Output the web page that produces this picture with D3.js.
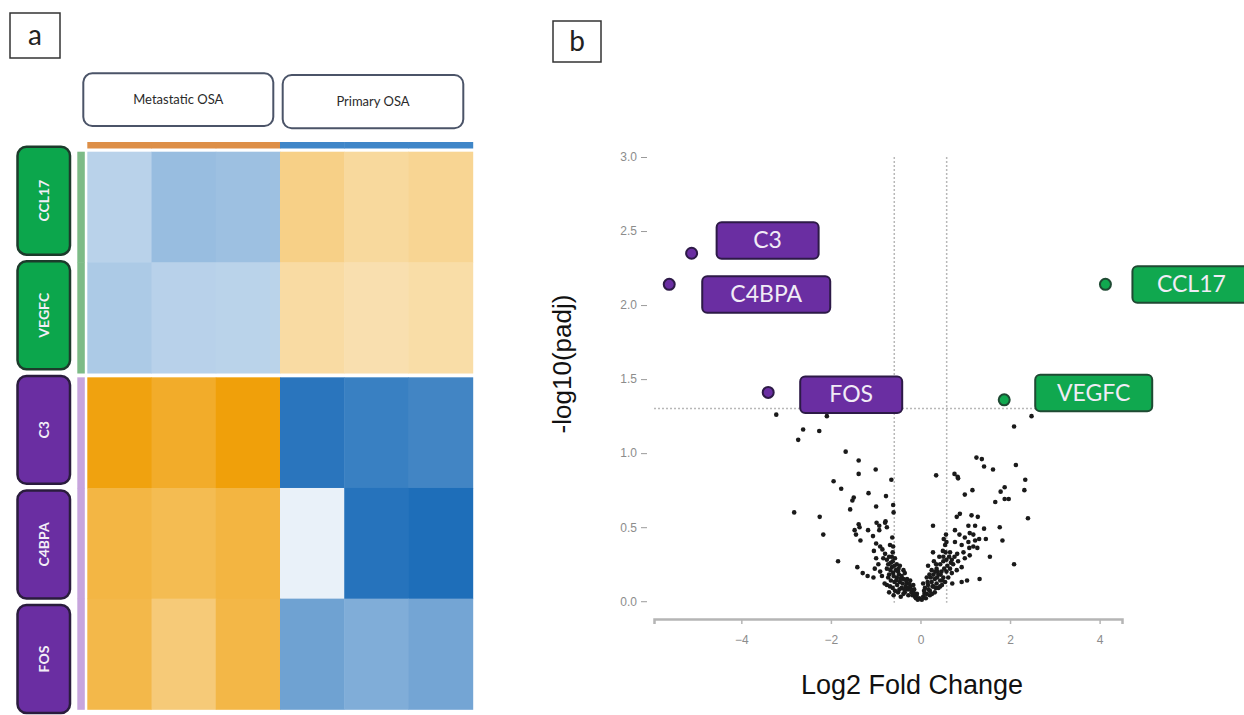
<!DOCTYPE html>
<html>
<head>
<meta charset="utf-8">
<script src="https://cdn.jsdelivr.net/npm/d3@7"></script>
<style>
body { margin: 0; background: #fff; }
svg { display: block; }
</style>
</head>
<body>
<svg id="fig" width="1244" height="715"></svg>
<script>
// ---- panel a data ----
let genes = ["CCL17", "VEGFC", "C3", "C4BPA", "FOS"];
let geneGroup = ["up", "up", "down", "down", "down"];
let samples = ["M1", "M2", "M3", "P1", "P2", "P3"];
let sampleGroup = ["Metastatic OSA", "Metastatic OSA", "Metastatic OSA", "Primary OSA", "Primary OSA", "Primary OSA"];
let groupNames = ["Metastatic OSA", "Primary OSA"];
// scaled expression, rows = genes, cols = samples
let expr = [
	[-0.49, -0.80, -0.76, 0.53, 0.29, 0.40],
	[-0.61, -0.50, -0.48, 0.23, 0.10, 0.18],
	[1.84, 1.54, 1.89, -1.86, -1.71, -1.63],
	[1.26, 1.11, 1.29, -0.03, -1.89, -1.97],
	[1.20, 0.70, 1.23, -1.20, -1.03, -1.15]
];

// ---- panel b data ----
let labelGenes = ["C3", "C4BPA", "FOS", "CCL17", "VEGFC"];
let labelFC = [-5.11, -5.61, -3.40, 4.13, 1.87];
let labelP = [2.35, 2.14, 1.41, 2.14, 1.36];
let labelDir = ["down", "down", "down", "up", "up"];
let xTicks = [-4, -2, 0, 2, 4];
let yTicks = [0, 0.5, 1, 1.5, 2, 2.5, 3];
let fcCut = 0.585, pCut = 1.301;
// [log2FC, -log10(padj)]
let volcanoPoints = [
	[-3.22,1.26],[-2.09,1.25],[-2.62,1.16],[-2.26,1.15],[-2.73,1.09],[-1.67,1.01],[-1.38,0.95],[-1.38,0.86],
	[-1.00,0.89],[-1.94,0.81],[-1.77,0.76],[-0.65,0.82],[-1.16,0.73],[-1.49,0.70],[-1.52,0.68],[-0.77,0.71],
	[-0.61,0.65],[-1.57,0.62],[-0.99,0.64],[-0.60,0.60],[-2.82,0.60],[-2.25,0.57],[-2.17,0.45],[-1.84,0.27],
	[-1.38,0.52],[-1.47,0.48],[-1.44,0.45],[-1.34,0.41],[-1.17,0.48],[-1.06,0.44],[-0.98,0.53],[-0.92,0.48],
	[-0.79,0.53],[-0.75,0.50],[-0.99,0.39],[-0.63,0.43],[-1.41,0.23],[-1.29,0.19],[-1.18,0.17],[-1.05,0.16],
	[-1.36,0.50],[-0.78,0.54],[-0.92,0.51],[-0.90,0.37],[-0.68,0.38],[-1.04,0.34],[-0.62,0.33],[-0.99,0.29],
	[-0.83,0.29],[-0.75,0.28],[-0.64,0.30],[-0.57,0.29],[-0.94,0.25],[-0.72,0.25],[-0.64,0.23],[-0.53,0.25],
	[-0.46,0.24],[-0.38,0.21],[-0.90,0.20],[-1.02,0.22],[-0.75,0.22],[-0.61,0.19],[-0.53,0.16],[-0.75,0.11],
	[-0.68,0.10],[-0.46,0.13],[-0.38,0.15],[-0.31,0.12],[-0.23,0.10],[-0.16,0.07],[-0.08,0.05],[-0.03,0.02],
	[-0.42,0.09],[-0.35,0.06],[-0.27,0.04],[-0.50,0.06],[-0.57,0.07],[-0.23,0.14],[-0.16,0.11],[-0.35,0.19],
	[-0.50,0.20],[-0.72,0.16],[-0.79,0.32],[-0.61,0.37],
	[-0.12,0.03],[-0.20,0.06],[-0.28,0.08],[-0.33,0.10],[-0.40,0.12],[-0.45,0.15],[-0.52,0.11],[-0.58,0.13],
	[-0.62,0.09],[-0.66,0.14],[-0.70,0.18],[-0.55,0.21],[-0.48,0.18],[-0.42,0.17],[-0.30,0.15],[-0.26,0.09],
	[-0.18,0.04],[-0.10,0.02],[-0.06,0.01],[-0.14,0.08],[-0.38,0.05],[-0.44,0.03],[-0.60,0.04],[-0.70,0.06],
	[-0.80,0.12],[-0.86,0.17],[-0.66,0.26],[-0.58,0.24],[-0.70,0.30],[-0.85,0.35],
	[-0.09,0.04],[-0.14,0.05],[-0.21,0.08],[-0.25,0.12],[-0.32,0.14],[-0.36,0.08],[-0.47,0.08],[-0.54,0.14],
	[-0.49,0.22],[-0.60,0.17],[-0.67,0.21],[-0.62,0.27],
	[2.48,1.25],[2.09,1.18],[2.13,0.92],[1.25,0.97],[1.37,0.96],[1.42,0.91],[1.62,0.89],[0.35,0.85],
	[0.76,0.86],[0.83,0.84],[0.84,0.83],[2.34,0.82],[2.32,0.75],[1.16,0.75],[0.99,0.72],[1.88,0.77],
	[1.79,0.74],[1.88,0.69],[1.97,0.69],[1.67,0.67],[2.40,0.56],[0.88,0.59],[0.81,0.57],[1.14,0.58],
	[1.28,0.57],[0.28,0.51],[1.07,0.51],[1.22,0.51],[1.42,0.49],[1.77,0.50],[1.83,0.41],[1.46,0.42],
	[1.55,0.30],[2.09,0.25],[1.32,0.15],[1.04,0.14],[0.92,0.13],[0.71,0.12],
	[0.77,0.48],[0.87,0.45],[0.99,0.43],[1.10,0.46],[1.18,0.45],[0.57,0.45],[0.52,0.42],[0.58,0.40],
	[0.55,0.38],[0.77,0.40],[0.92,0.38],[1.07,0.40],[1.22,0.41],[1.31,0.42],[0.28,0.33],[0.50,0.34],
	[0.66,0.33],[0.82,0.32],[0.96,0.33],[1.09,0.36],[1.18,0.37],[1.27,0.36],[0.17,0.24],[0.35,0.25],
	[0.51,0.27],[0.70,0.28],[0.84,0.27],[0.99,0.29],[1.10,0.31],[0.92,0.23],[0.81,0.21],[0.70,0.19],
	[0.58,0.20],
	[0.03,0.01],[0.06,0.03],[0.14,0.05],[0.21,0.07],[0.29,0.10],[0.36,0.12],[0.44,0.14],[0.51,0.16],
	[0.10,0.09],[0.17,0.11],[0.25,0.13],[0.32,0.15],[0.40,0.18],[0.47,0.20],[0.21,0.04],[0.32,0.06],
	[0.44,0.10],[0.55,0.13],[0.62,0.16],[0.25,0.21],[0.36,0.22],[0.14,0.16],[0.06,0.12],[0.44,0.25],
	[0.51,0.30],[0.29,0.18],[0.40,0.09],[0.66,0.22],[0.73,0.25],[0.20,0.18],
	[0.09,0.05],[0.12,0.02],[0.18,0.08],[0.26,0.05],[0.34,0.09],[0.48,0.11],[0.60,0.24],[0.64,0.30],
	[0.56,0.33],[0.42,0.30],[0.38,0.20],[0.30,0.27],
	[0.08,0.07],[0.16,0.13],[0.23,0.16],[0.27,0.10],[0.37,0.16],[0.45,0.18],[0.53,0.22],[0.58,0.28],
	[0.68,0.26],[0.76,0.30],[0.33,0.20],[0.49,0.14]
];

let svg = d3.select("#fig");
let purple = "#6a2ea2", green = "#10a84f";

// panel letter boxes
let letterBox = function(x, y, w, h, t) {
	svg.append("rect").attr("x", x).attr("y", y).attr("width", w).attr("height", h)
		.attr("fill", "#fff").attr("stroke", "#333").attr("stroke-width", 1.5);
	svg.append("text").attr("x", x + w/2).attr("y", y + h/2 + 9)
		.attr("text-anchor", "middle").attr("font-family", "Lato, 'Open Sans', sans-serif")
		.attr("font-size", 28).attr("fill", "#222").text(t);
};
letterBox(10, 13, 50, 45, "a");
letterBox(553, 21, 48, 41, "b");

// ---------------- panel a: heatmap ----------------
let hx = d3.scaleBand().domain(samples).range([87.3, 472.7]);
let hyBase = d3.scaleBand().domain(genes).range([151.7, 705]);
let rowGap = 4.3;
let hy = (g) => hyBase(g) + (geneGroup[genes.indexOf(g)] == "down" ? rowGap : 0);
let heatColor = d3.scaleLinear()
	.domain([-2, 0, 0.0001, 2])
	.range(["#1b6cb8", "#ecf3fa", "#fae3b8", "#ef9c00"])
	.clamp(true);

let cells = [];
genes.forEach((g, i) => samples.forEach((s, j) => cells.push({g: g, s: s, v: expr[i][j]})));
svg.append("g").selectAll("rect").data(cells).enter().append("rect")
	.attr("x", d => hx(d.s))
	.attr("y", d => hy(d.g))
	.attr("width", hx.bandwidth() + 0.5)
	.attr("height", hyBase.bandwidth() + 0.5)
	.attr("fill", d => heatColor(d.v));

// top sample-group bar
let groupColor = {"Metastatic OSA": "#dd8f48", "Primary OSA": "#3f86c8"};
svg.append("g").selectAll("rect").data(samples).enter().append("rect")
	.attr("x", d => hx(d)).attr("y", 142).attr("width", hx.bandwidth() + 0.5).attr("height", 6.5)
	.attr("fill", (d, i) => groupColor[sampleGroup[i]]);

// left gene-group bar
let geneGroupColor = {"up": "#7dbb87", "down": "#c7a5dd"};
svg.append("g").selectAll("rect").data(genes).enter().append("rect")
	.attr("x", 77.3).attr("y", d => hy(d)).attr("width", 7.5).attr("height", hyBase.bandwidth() + 0.5)
	.attr("fill", (d, i) => geneGroupColor[geneGroup[i]]);

// column group header boxes
let headerBoxes = [[83.3, 73.3, 190, 52.7], [282.7, 75, 180.6, 53.3]];
groupNames.forEach((n, i) => {
	let b = headerBoxes[i];
	svg.append("rect").attr("x", b[0]).attr("y", b[1]).attr("width", b[2]).attr("height", b[3])
		.attr("rx", 9).attr("fill", "#fff").attr("stroke", "#4b5468").attr("stroke-width", 2);
	svg.append("text").attr("x", b[0] + b[2]/2).attr("y", b[1] + b[3]/2 + 4.5)
		.attr("text-anchor", "middle").attr("font-family", "Lato, 'Open Sans', sans-serif")
		.attr("font-size", 13).attr("fill", "#2a2a2a").text(n);
});

// gene label boxes
let ly = d3.scaleBand().domain(genes).range([146.7, 713]).paddingInner(0.058);
let lab = svg.append("g").selectAll("g").data(genes).enter().append("g");
lab.append("rect")
	.attr("x", 17.5).attr("y", d => ly(d)).attr("width", 52.5).attr("height", ly.bandwidth())
	.attr("rx", 9)
	.attr("fill", (d, i) => geneGroup[i] == "up" ? "#0ca64c" : purple)
	.attr("stroke", (d, i) => geneGroup[i] == "up" ? "#1c3b2b" : "#2a1c3d")
	.attr("stroke-width", 2.5);
lab.append("text")
	.attr("transform", d => "translate(" + 48.5 + "," + (ly(d) + ly.bandwidth()/2) + ") rotate(-90)")
	.attr("text-anchor", "middle")
	.attr("font-family", "Lato, 'Open Sans', sans-serif").attr("font-weight", "bold")
	.attr("font-size", 14).attr("fill", "#f3eef7").text(d => d);

// ---------------- panel b: volcano ----------------
let x = d3.scaleLinear().domain([-5.95, 4.5]).range([654, 1122]);
let y = d3.scaleLinear().domain([-0.12, 3.0]).range([619, 157]);

// threshold lines
let dash = svg.append("g").attr("stroke", "#b8b8b8").attr("stroke-width", 1.5).attr("stroke-dasharray", "2,2");
dash.append("line").attr("x1", x.range()[0]).attr("x2", x.range()[1]).attr("y1", y(pCut)).attr("y2", y(pCut));
[-fcCut, fcCut].forEach(v => dash.append("line").attr("x1", x(v)).attr("x2", x(v)).attr("y1", y(3.0)).attr("y2", y(-0.01)));

// axes
let xAxis = svg.append("g").attr("transform", "translate(0," + y.range()[0] + ")")
	.call(d3.axisBottom(x).tickValues(xTicks).tickSize(5).tickPadding(11).tickFormat(d3.format("d")));
xAxis.select(".domain").attr("stroke", "#b5b5b5").attr("stroke-width", 2.5);
xAxis.selectAll(".tick line").attr("stroke", "#b5b5b5").attr("stroke-width", 1.5);
xAxis.selectAll("text").attr("fill", "#8c8c8c").attr("font-size", 12).attr("font-family", "'Liberation Sans', Arial, sans-serif");

let yAxis = svg.append("g").attr("transform", "translate(647,0)")
	.call(d3.axisLeft(y).tickValues(yTicks).tickSize(6).tickPadding(4).tickFormat(d3.format(".1f")));
yAxis.select(".domain").remove();
yAxis.selectAll(".tick line").attr("stroke", "#9a9a9a").attr("stroke-width", 1);
yAxis.selectAll("text").attr("fill", "#8c8c8c").attr("font-size", 12).attr("font-family", "'Liberation Sans', Arial, sans-serif");

// axis titles
svg.append("text").attr("x", 912).attr("y", 694).attr("text-anchor", "middle")
	.attr("font-family", "'Liberation Sans', Arial, sans-serif").attr("font-size", 27).attr("fill", "#111")
	.text("Log2 Fold Change");
svg.append("text").attr("transform", "translate(571,364) rotate(-90)").attr("text-anchor", "middle")
	.attr("font-family", "'Liberation Sans', Arial, sans-serif").attr("font-size", 26).attr("fill", "#111")
	.text("-log10(padj)");

// background genes
svg.append("g").selectAll("circle").data(volcanoPoints).enter().append("circle")
	.attr("cx", d => x(d[0])).attr("cy", d => y(d[1])).attr("r", 2.3)
	.attr("fill", "#1a1a1a");

// highlighted genes and their labels
let labelLayout = {
	"C3": [25, -31, 102], "C4BPA": [33, -8, 128], "FOS": [32, -16, 102],
	"CCL17": [27, -18, 118], "VEGFC": [31, -25, 117]
};
let hl = svg.append("g").selectAll("g").data(labelGenes).enter().append("g");
hl.append("circle")
	.attr("cx", (d, i) => x(labelFC[i])).attr("cy", (d, i) => y(labelP[i])).attr("r", 5.5)
	.attr("fill", (d, i) => labelDir[i] == "up" ? green : purple)
	.attr("stroke", (d, i) => labelDir[i] == "up" ? "#1f4a33" : "#2d1a47").attr("stroke-width", 2);
hl.append("rect")
	.attr("x", (d, i) => x(labelFC[i]) + labelLayout[d][0])
	.attr("y", (d, i) => y(labelP[i]) + labelLayout[d][1])
	.attr("width", d => labelLayout[d][2]).attr("height", 36.5).attr("rx", 5)
	.attr("fill", (d, i) => labelDir[i] == "up" ? green : purple)
	.attr("stroke", (d, i) => labelDir[i] == "up" ? "#1f4a33" : "#2d1a47").attr("stroke-width", 2);
hl.append("text")
	.attr("x", (d, i) => x(labelFC[i]) + labelLayout[d][0] + labelLayout[d][2]/2)
	.attr("y", (d, i) => y(labelP[i]) + labelLayout[d][1] + 26)
	.attr("text-anchor", "middle").attr("font-family", "Lato, 'Open Sans', sans-serif")
	.attr("font-size", 23).attr("fill", "#f1ecf6").text(d => d);
</script>
</body>
</html>
